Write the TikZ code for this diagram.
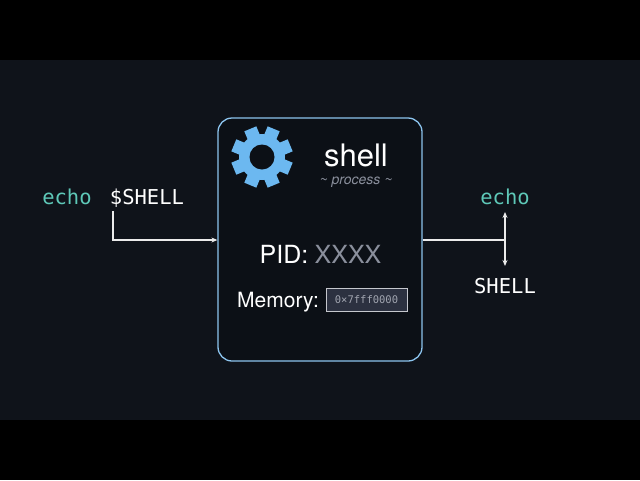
\documentclass[tikz,border=0pt]{standalone}
\usepackage{fontspec}
\setmainfont{TeX Gyre Heros}
\newfontfamily\monof{DejaVu Sans Mono}
\usetikzlibrary{arrows.meta}
\definecolor{bg}{HTML}{0F131A}
\definecolor{boxc}{HTML}{0C1016}
\definecolor{bord}{HTML}{8CC4EE}
\definecolor{gear}{HTML}{6CB8F0}
\definecolor{teal}{HTML}{5EC8B8}
\definecolor{grayt}{HTML}{8A8F9C}
\definecolor{memf}{HTML}{2C3140}
\tikzset{
  lbl/.style={text=white,inner sep=0pt,anchor=base},
  mono/.style={font=\monof\fontsize{20.5}{20.5}\selectfont},
  conn/.style={draw=white!92!black,line width=1.2pt},
  arr/.style={conn,-{Stealth[length=6pt,width=5pt]}},
}
\begin{document}
\begin{tikzpicture}[x=1pt,y=-1pt]
\fill[black] (0,0) rectangle (640,480);
\fill[bg] (0,60) rectangle (640,420);
\useasboundingbox (0,0) rectangle (640,480);
\node[draw=bord,fill=boxc,line width=1.3pt,rounded corners=14pt,minimum width=204pt,minimum height=243pt,inner sep=0pt] (box) at (320,239.5) {};
% gear
\begin{scope}[shift={(262,157)}]
\fill[gear] (0,0) circle (23);
\foreach \a in {0,45,...,315}{\fill[gear,rotate=\a+22.5] (-6.5,-20) rectangle (6.5,-30.5);}
\fill[boxc] (0,0) circle (12.5);
\end{scope}
\node[lbl,font=\fontsize{31}{31}\selectfont] (title) at (356,166) {shell};
\node[lbl,text=grayt,font=\itshape\fontsize{14}{14}\selectfont] (sub) at (356,184) {\textasciitilde{} process \textasciitilde};
\node[lbl,font=\fontsize{25}{25}\selectfont] (pid) at (284,263) {PID:};
\node[lbl,text=grayt,font=\fontsize{25}{25}\selectfont] (pidv) at (348,263) {XXXX};
\node[lbl,font=\fontsize{21}{21}\selectfont] (mem) at (278,307) {Memory:};
\node[draw=grayt!50,fill=memf,text=grayt!80!white,font=\monof\fontsize{10.5}{10.5}\selectfont,minimum width=81pt,minimum height=23pt,inner sep=0pt] (memv) at (366.5,299.5) {0×7fff0000};
% left
\node[lbl,mono,text=teal] (echoL) at (67,204) {echo};
\node[lbl,mono] (shellL) at (147,204) {\$SHELL};
\coordinate (c1) at (113,211);
\draw[arr] (c1) |- (box.west |- 0,240);
% right
\coordinate (r1) at (505,240);
\draw[conn] (box.east |- 0,240) -- (r1);
\node[lbl,mono,text=teal] (echoR) at (505,204) {echo};
\node[lbl,mono] (shellR) at (505,293) {SHELL};
\coordinate (up) at (505,212);
\coordinate (dn) at (505,266);
\draw[conn,{Stealth[length=6pt,width=5pt]}-{Stealth[length=6pt,width=5pt]}] (up) -- (dn);
\end{tikzpicture}
\end{document}
